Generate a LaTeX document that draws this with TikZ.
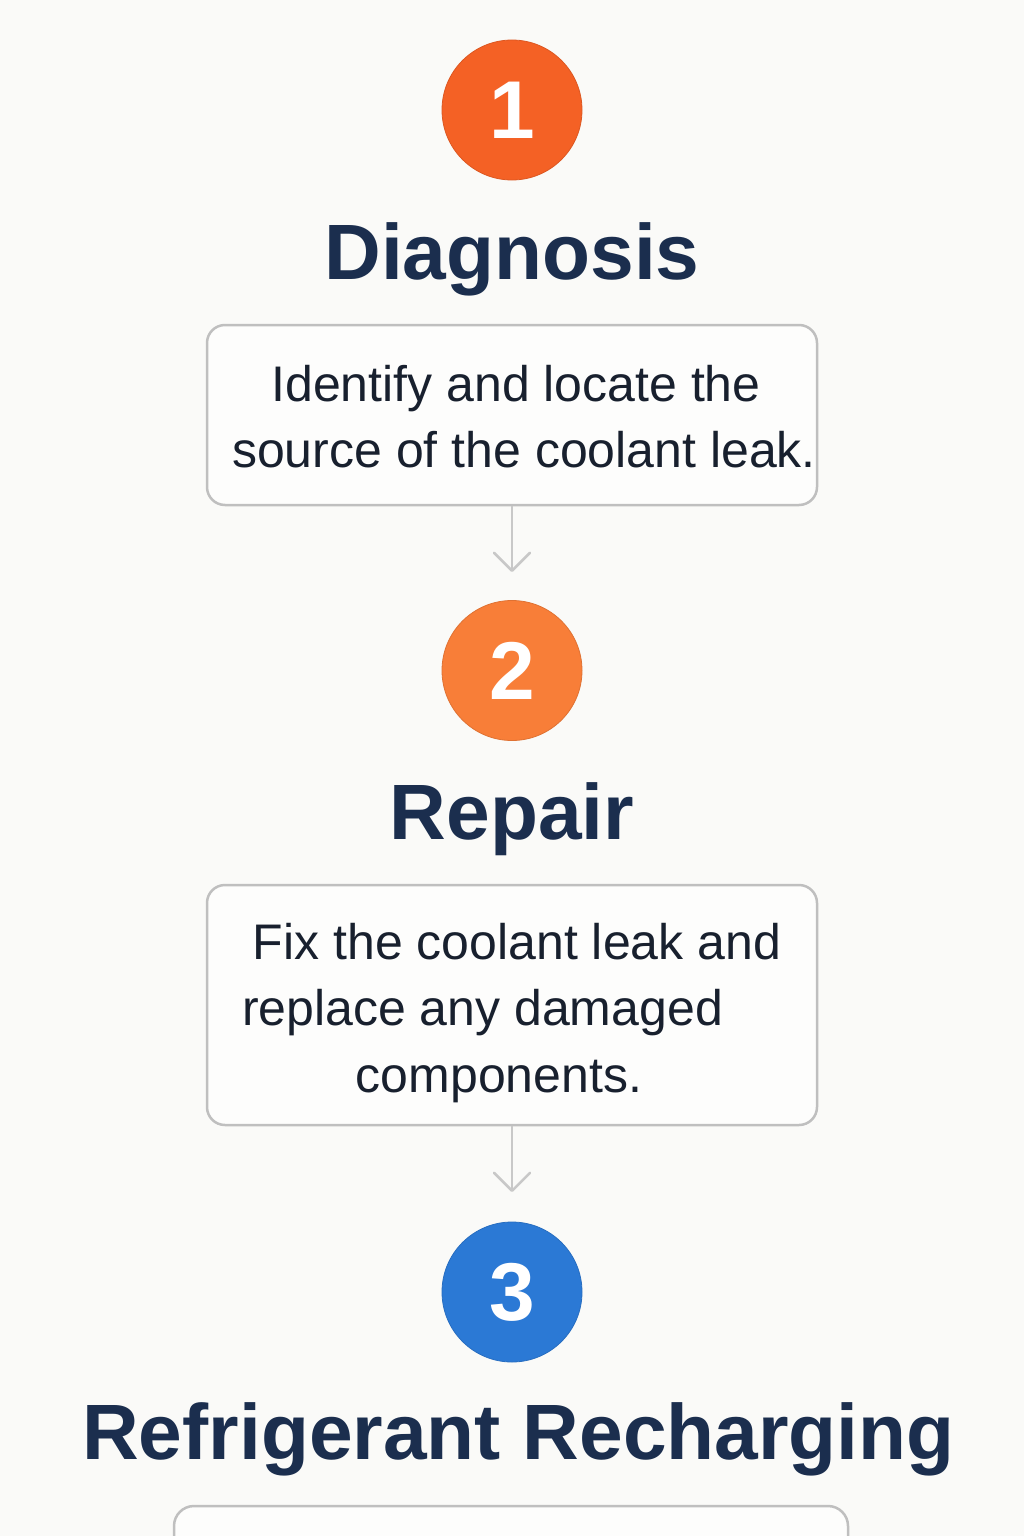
\documentclass[tikz,border=0pt]{standalone}
\usepackage{fontspec}
\setmainfont{Liberation Sans}
\usetikzlibrary{arrows.meta}
\definecolor{bgc}{HTML}{FAFAF8}
\definecolor{boxfill}{HTML}{FDFDFC}
\definecolor{boxline}{HTML}{BFBFBF}
\definecolor{arrowc}{HTML}{C8C8C8}
\definecolor{navy}{HTML}{1B2E4E}
\definecolor{bodytxt}{HTML}{18202E}
\definecolor{orangeA}{HTML}{F46125}
\definecolor{orangeB}{HTML}{F87E38}
\definecolor{blueC}{HTML}{2B79D5}
\tikzset{
  numcircle/.style={circle, minimum size=140pt, inner sep=0pt, draw=#1!90!black, line width=0.8pt, fill=#1},
  numtext/.style={text=white, font=\fontsize{82}{84}\selectfont\bfseries, inner sep=0pt},
  title/.style={text=navy, font=\fontsize{78.5}{80}\selectfont\bfseries, inner sep=0pt, anchor=base},
  descbox/.style={draw=boxline, fill=boxfill, line width=2.5pt, rounded corners=18pt, inner sep=0pt},
  bodyline/.style={text=bodytxt, font=\fontsize{50}{52}\selectfont, inner sep=0pt, anchor=base},
  flow/.style={draw=arrowc, line width=2.5pt, -{Straight Barb[length=18pt, width=36pt, line width=2.5pt, round]}}
}
\begin{document}
\begin{tikzpicture}[x=1pt, y=-1pt]
\clip (0,0) rectangle (1024,1536);
\fill[bgc] (0,0) rectangle (1024,1536);

% Step 1
\node[numcircle=orangeA] (c1) at (512,110) {};
\node[numtext] (n1) at (c1.center) {1};
\node[title] (t1) at (512,279) {Diagnosis};
\node[descbox, minimum width=610pt, minimum height=180pt] (b1) at (512,415) {};
\node[bodyline] (l11) at (516,401) {Identify and locate the};
\node[bodyline] (l12) at (524,467) {source of the coolant leak.};
\coordinate (a1) at (512,572);
\draw[flow] (b1.south) -- (a1);

% Step 2
\node[numcircle=orangeB] (c2) at (512,670.5) {};
\node[numtext] (n2) at (c2.center) {2};
\node[title] (t2) at (512,839) {Repair};
\node[descbox, minimum width=610pt, minimum height=240pt] (b2) at (512,1005) {};
\node[bodyline] (l21) at (517,959) {Fix the coolant leak and};
\node[bodyline] (l22) at (482.5,1025) {replace any damaged};
\node[bodyline] (l23) at (499,1092) {components.};
\coordinate (a2) at (512,1192);
\draw[flow] (b2.south) -- (a2);

% Step 3
\node[numcircle=blueC] (c3) at (512,1292) {};
\node[numtext] (n3) at (c3.center) {3};
\node[title] (t3) at (518.5,1459) {Refrigerant Recharging};
\node[descbox, minimum width=674pt, minimum height=200pt, rounded corners=20pt] (b3) at (511,1606) {};
\end{tikzpicture}
\end{document}
